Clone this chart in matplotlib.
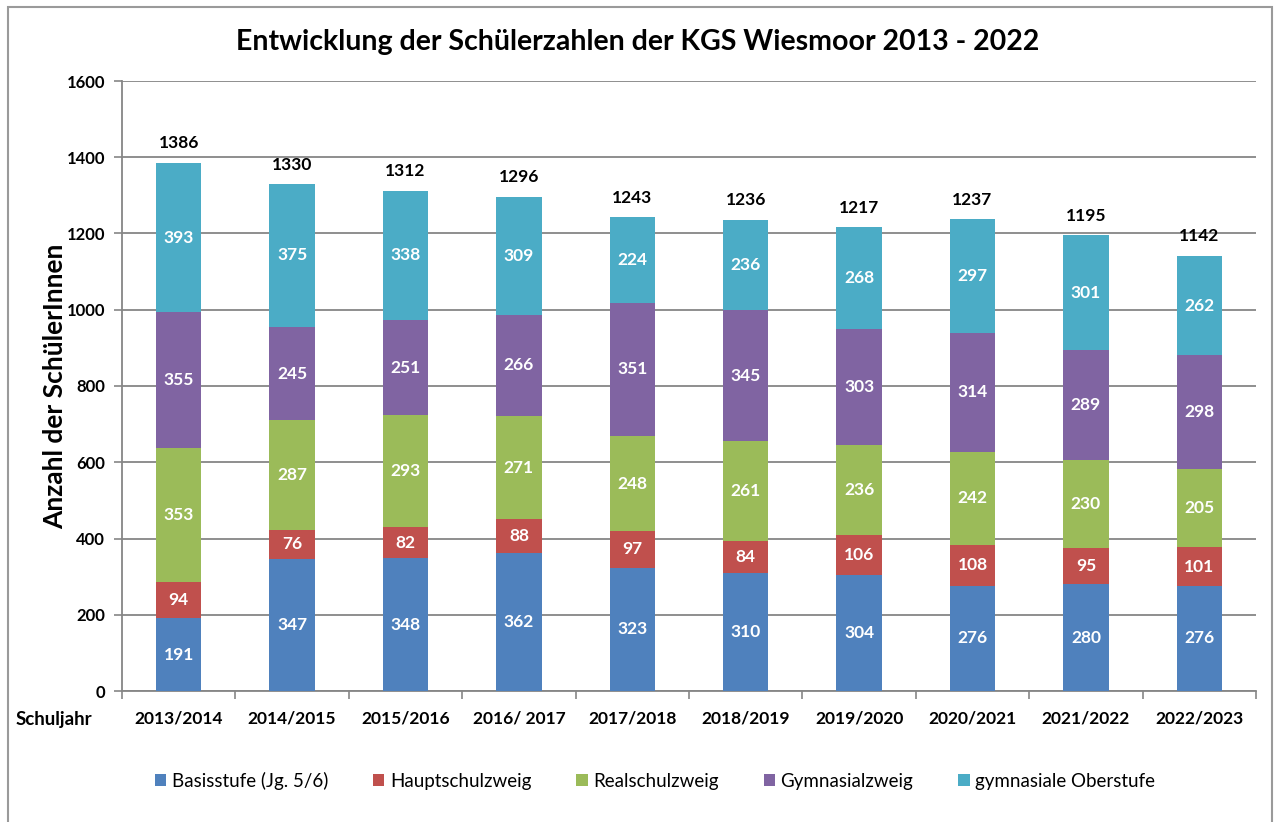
import matplotlib.pyplot as plt
from matplotlib.patches import Rectangle
import numpy as np

years = ["2013/2014", "2014/2015", "2015/2016", "2016/ 2017", "2017/2018",
         "2018/2019", "2019/2020", "2020/2021", "2021/2022", "2022/2023"]
series = ["Basisstufe (Jg. 5/6)", "Hauptschulzweig", "Realschulzweig",
          "Gymnasialzweig", "gymnasiale Oberstufe"]
basis = [191, 347, 348, 362, 323, 310, 304, 276, 280, 276]
haupt = [94, 76, 82, 88, 97, 84, 106, 108, 95, 101]
real = [353, 287, 293, 271, 248, 261, 236, 242, 230, 205]
gym = [355, 245, 251, 266, 351, 345, 303, 314, 289, 298]
ober = [393, 375, 338, 309, 224, 236, 268, 297, 301, 262]
totals = [1386, 1330, 1312, 1296, 1243, 1236, 1217, 1237, 1195, 1142]
colors = ["#4F81BD", "#C0504D", "#9BBB59", "#8064A2", "#4BACC6"]

plt.rcParams['font.family'] = ['Lato', 'DejaVu Sans']

fig = plt.figure(figsize=(12.76, 8.22), dpi=100)
ax = fig.add_axes([122 / 1276, 131 / 822, 1134 / 1276, 610 / 822])

x = np.arange(len(years))
bottom = np.zeros(len(years))
for name, vals, col in zip(series, [basis, haupt, real, gym, ober], colors):
    ax.bar(x, vals, 0.4, bottom=bottom, color=col, label=name, zorder=3)
    for xi, b, v in zip(x, bottom, vals):
        ax.text(xi, b + v / 2, str(v), ha="center", va="center", color="white",
                fontsize=12.5, fontweight="bold", zorder=4)
    bottom += np.array(vals)

for xi, t in zip(x, totals):
    ax.text(xi, t + 30, str(t), ha="center", va="bottom", color="black",
            fontsize=12.5, fontweight="bold")

ax.set_xlim(-0.5, len(years) - 0.5)
ax.set_ylim(0, 1600)
ax.set_yticks(range(0, 1601, 200))
ax.set_yticklabels([str(v) for v in range(0, 1601, 200)], fontsize=12, fontweight="bold")
ax.set_xticks(x)
ax.set_xticklabels(years, fontsize=12.5, fontweight="bold")
ax.set_xticks(np.arange(-0.5, len(years), 1), minor=True)
ax.tick_params(axis="x", which="major", length=0, pad=14)
ax.tick_params(axis="x", which="minor", length=6, color="#868686", width=1.2)
ax.tick_params(axis="y", length=6, color="#868686", width=1.2, pad=6)
ax.yaxis.grid(True, color="#868686", linewidth=1.3, zorder=0)
ax.set_axisbelow(True)
for s in ["top", "right"]:
    ax.spines[s].set_visible(False)
for s in ["left", "bottom"]:
    ax.spines[s].set_color("#868686")
    ax.spines[s].set_linewidth(1.3)

ax.set_ylabel("Anzahl der SchülerInnen", fontsize=19, fontweight="bold", labelpad=0)
fig.text(16 / 1276, 1 - 719 / 822, "Schuljahr", fontsize=13.5, fontweight="bold",
         va="center", ha="left")
fig.text(638 / 1276, 1 - 42 / 822, "Entwicklung der Schülerzahlen der KGS Wiesmoor 2013 - 2022",
         fontsize=20.5, fontweight="bold", ha="center", va="center")

handles, labels = ax.get_legend_handles_labels()
fig.legend(handles, labels, loc="center", bbox_to_anchor=(655 / 1276, 1 - 781 / 822),
           ncol=5, frameon=False, fontsize=13.5, handlelength=0.6, handleheight=0.6,
           handletextpad=0.3, columnspacing=2.4)

fig.patches.append(Rectangle((8 / 1276, -0.01), 1264 / 1276, 1.01 - 7 / 822,
                             transform=fig.transFigure, fill=False,
                             edgecolor="#9a9a9a", linewidth=1.5))

fig.savefig("out.png", dpi=100)
